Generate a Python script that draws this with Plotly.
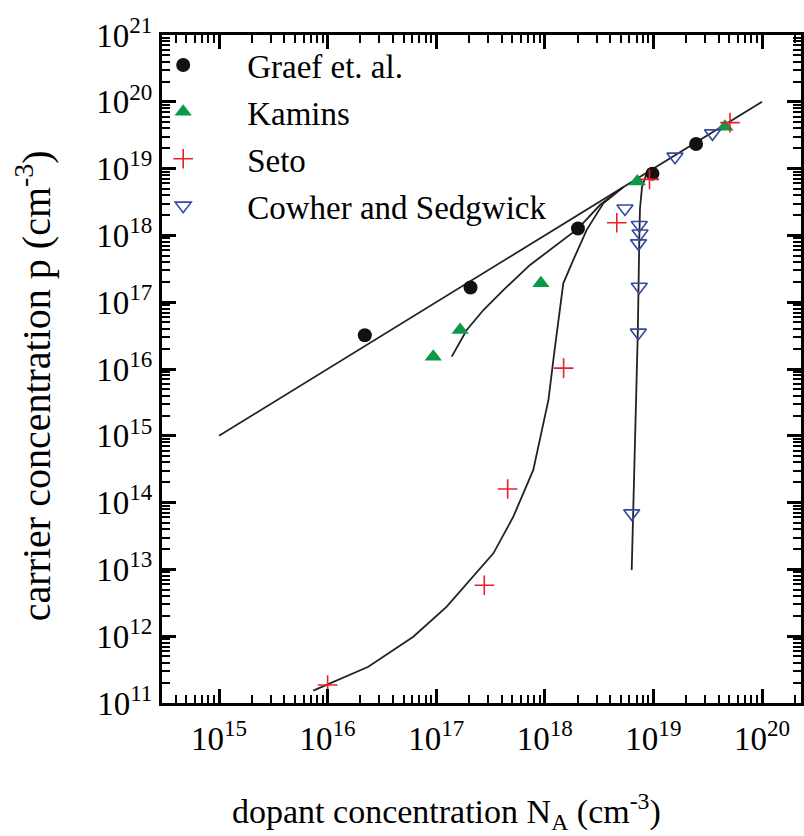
import math
import plotly.graph_objects as go

# ---------------- data ----------------
graef_N = [2.2e16, 2.07e17, 2.02e18, 9.8e18, 2.47e19]
graef_p = [3.2e16, 1.66e17, 1.27e18, 8.4e18, 2.33e19]

kamins_N = [9.4e16, 1.66e17, 9.2e17, 7.1e18, 4.56e19]
kamins_p = [1.53e16, 3.84e16, 1.92e17, 6.4e18, 4.24e19]

seto_N = [1.0e16, 2.77e17, 4.55e17, 1.49e18, 4.6e18, 9.2e18, 5.07e19]
seto_p = [1.86e11, 5.8e12, 1.6e14, 1.03e16, 1.55e18, 6.9e18, 4.87e19]

cowher_N = [6.31e18, 7.26e18, 7.41e18, 7.29e18, 7.53e18, 7.41e18, 5.47e18, 1.58e19, 3.5e19]
cowher_p = [6.9e13, 3.5e16, 1.7e17, 7.6e17, 1.07e18, 1.43e18, 2.53e18, 1.51e19, 3.37e19]

# model curves
ideal_N = [1e15, 1e20]
ideal_p = [1e15, 1e20]

kfit_N = [1.39e17, 1.91e17, 2.72e17, 4.15e17, 7.31e17, 2.02e18, 3.22e18, 5.25e18]
kfit_p = [1.53e16, 3.84e16, 7.64e16, 1.52e17, 3.61e17, 1.26e18, 2.85e18, 5.25e18]

sfit_N = [7.38e15, 2.37e16, 6.15e16, 1.25e17, 3.36e17, 5.13e17, 7.83e17, 9.04e17,
          1.08e18, 1.23e18, 1.48e18, 1.83e18, 2.43e18, 3.46e18, 5.25e18]
sfit_p = [1.53e11, 3.49e11, 9.84e11, 2.77e12, 1.74e13, 6.15e13, 3.08e14, 8.65e14,
          3.44e15, 1.92e16, 1.92e17, 4.29e17, 1.21e18, 3.03e18, 5.25e18]

cfit_N = [6.31e18, 6.53e18, 6.98e18, 7.19e18, 7.41e18, 7.52e18, 7.85e18, 8.71e18]
cfit_p = [9.77e12, 6.92e13, 3.44e15, 3.80e16, 8.51e17, 2.51e18, 5.25e18, 8.71e18]

# tick labels
x_tick_vals = [1e15, 1e16, 1e17, 1e18, 1e19, 1e20]
x_tick_text = ["10<sup>15</sup>", "10<sup>16</sup>", "10<sup>17</sup>",
               "10<sup>18</sup>", "10<sup>19</sup>", "10<sup>20</sup>"]
y_tick_vals = [1e11, 1e12, 1e13, 1e14, 1e15, 1e16, 1e17, 1e18, 1e19, 1e20, 1e21]
y_tick_text = ["10<sup>11</sup>", "10<sup>12</sup>", "10<sup>13</sup>", "10<sup>14</sup>",
               "10<sup>15</sup>", "10<sup>16</sup>", "10<sup>17</sup>", "10<sup>18</sup>",
               "10<sup>19</sup>", "10<sup>20</sup>", "10<sup>21</sup>"]

FONT = "Liberation Serif"
LINE_C = "#222222"
X_RANGE = [14.475, 20.359]   # log10 units
Y_RANGE = [11, 21]

W, H = 804, 836
ML, MR, MT, MB = 162, 3, 35, 133
MINOR_LEN = 8

# minor tick positions (2..9 within each decade), kept inside the range
minor_x = [m * 10.0 ** e for e in range(14, 21) for m in range(2, 10)
           if X_RANGE[0] < e + math.log10(m) < X_RANGE[1]]
minor_y = [m * 10.0 ** e for e in range(10, 21) for m in range(2, 10)
           if Y_RANGE[0] < e + math.log10(m) < Y_RANGE[1]]

fig = go.Figure()
for xs, ys in [(ideal_N, ideal_p), (kfit_N, kfit_p), (sfit_N, sfit_p), (cfit_N, cfit_p)]:
    fig.add_trace(go.Scatter(x=xs, y=ys, mode="lines",
                             line=dict(color=LINE_C, width=1.8),
                             showlegend=False, hoverinfo="skip"))

fig.add_trace(go.Scatter(x=graef_N, y=graef_p, mode="markers", name="Graef et. al.",
                         legendgroup="a",
                         marker=dict(symbol="circle", size=14, color="#111111")))
fig.add_trace(go.Scatter(x=kamins_N, y=kamins_p, mode="markers", name="Kamins",
                         legendgroup="b",
                         marker=dict(symbol="triangle-up", size=15, color="#0a9a47")))
fig.add_trace(go.Scatter(x=seto_N, y=seto_p, mode="markers", name="Seto",
                         legendgroup="c",
                         marker=dict(symbol="cross-thin", size=14, color="#e8202a",
                                     line=dict(color="#e8202a", width=1.6))))
fig.add_trace(go.Scatter(x=cowher_N, y=cowher_p, mode="markers", name="Cowher and Sedgwick",
                         legendgroup="d",
                         marker=dict(symbol="triangle-down-open", size=14, color="#3549a0",
                                     line=dict(color="#3549a0", width=1.6))))

major = dict(
    type="log", showline=True, linewidth=3, linecolor="black", mirror="ticks",
    ticks="inside", ticklen=14, tickwidth=2.5, tickcolor="black",
    tickmode="array",
    showgrid=False, zeroline=False, automargin=False,
    tickfont=dict(family=FONT, size=33, color="black"),
)

fig.update_layout(
    width=W, height=H,
    margin=dict(l=ML, r=MR, t=MT, b=MB),
    plot_bgcolor="white", paper_bgcolor="white",
    font=dict(family=FONT, color="black"),
    xaxis=dict(range=X_RANGE, ticklabelstandoff=4,
               tickvals=x_tick_vals, ticktext=x_tick_text,
               minor=dict(tickmode="array", tickvals=minor_x, ticks="inside",
                          ticklen=MINOR_LEN, tickwidth=2, tickcolor="black", showgrid=False),
               **major),
    yaxis=dict(range=Y_RANGE, ticklabelstandoff=0,
               tickvals=y_tick_vals, ticktext=y_tick_text,
               minor=dict(tickmode="array", tickvals=minor_y, ticks="inside",
                          ticklen=MINOR_LEN, tickwidth=2, tickcolor="black", showgrid=False),
               **major),
    legend=dict(x=-0.067, y=0.997, xanchor="left", yanchor="top",
                bgcolor="rgba(0,0,0,0)", itemwidth=118, tracegroupgap=1,
                font=dict(family=FONT, size=33, color="black")),
    annotations=[
        dict(text="dopant concentration N<sub>A</sub> (cm<sup>-3</sup>)",
             xref="paper", yref="paper", x=0.446, y=-0.163,
             xanchor="center", yanchor="middle", showarrow=False,
             font=dict(family=FONT, size=34, color="black")),
        dict(text="carrier concentration p (cm<sup>-3</sup>)",
             xref="paper", yref="paper", x=-0.200, y=0.4746, textangle=-90,
             xanchor="center", yanchor="middle", showarrow=False,
             font=dict(family=FONT, size=40, color="black")),
    ],
)

fig.write_html("out.html", config={"displayModeBar": False},
               post_script="document.body.style.margin='0px';")
